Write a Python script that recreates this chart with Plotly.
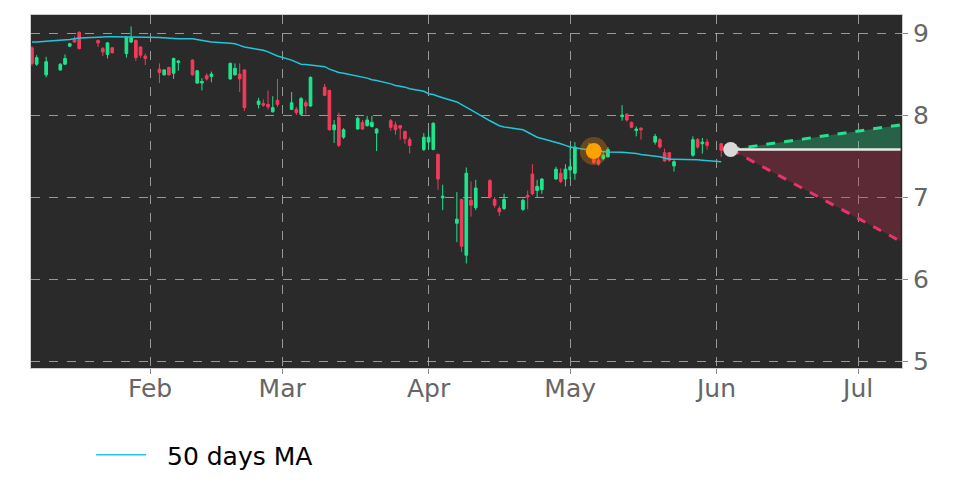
import plotly.graph_objects as go

dates = ["2025-01-07","2025-01-08","2025-01-10","2025-01-13","2025-01-14","2025-01-15","2025-01-16","2025-01-17",
"2025-01-21","2025-01-22","2025-01-23","2025-01-24","2025-01-27","2025-01-28","2025-01-29","2025-01-30","2025-01-31",
"2025-02-03","2025-02-04","2025-02-05","2025-02-06","2025-02-07","2025-02-10","2025-02-11","2025-02-12","2025-02-13","2025-02-14",
"2025-02-18","2025-02-19","2025-02-20","2025-02-21","2025-02-24","2025-02-25","2025-02-26","2025-02-27","2025-02-28",
"2025-03-03","2025-03-04","2025-03-05","2025-03-06","2025-03-07","2025-03-10","2025-03-11","2025-03-12","2025-03-13","2025-03-14",
"2025-03-17","2025-03-18","2025-03-19","2025-03-20","2025-03-21","2025-03-24","2025-03-25","2025-03-26","2025-03-27","2025-03-28",
"2025-03-31","2025-04-01","2025-04-02","2025-04-03","2025-04-04","2025-04-07","2025-04-08","2025-04-09","2025-04-10","2025-04-11",
"2025-04-14","2025-04-15","2025-04-16","2025-04-17","2025-04-21","2025-04-22","2025-04-23","2025-04-24","2025-04-25",
"2025-04-28","2025-04-29","2025-04-30","2025-05-01","2025-05-02","2025-05-05","2025-05-06","2025-05-07","2025-05-08","2025-05-09",
"2025-05-12","2025-05-13","2025-05-14","2025-05-15","2025-05-16","2025-05-19","2025-05-20","2025-05-21","2025-05-22","2025-05-23",
"2025-05-27","2025-05-28","2025-05-29","2025-05-30","2025-06-02"]

opens = [8.82,8.62,8.49,8.55,8.62,8.84,8.92,9.01,
8.91,8.81,8.74,8.82,8.75,8.89,8.91,8.83,8.72,
8.56,8.49,8.58,8.51,8.64,8.67,8.39,8.39,8.48,8.47,
8.44,8.49,8.50,8.55,8.13,8.14,8.13,8.04,8.18,
8.07,8.07,8.01,8.15,8.11,8.34,8.30,7.82,7.97,7.73,
7.83,7.91,7.87,7.86,7.78,7.93,7.88,7.87,7.80,7.70,
7.58,7.67,7.58,7.52,6.99,6.68,6.97,6.29,6.96,6.87,
7.20,6.97,6.86,6.86,6.85,7.02,7.28,7.08,7.09,
7.22,7.29,7.22,7.33,7.29,7.52,7.49,7.45,7.47,7.49,
7.98,8.01,7.91,7.81,7.84,7.67,7.70,7.54,7.54,7.38,
7.51,7.70,7.65,7.67,7.65]
highs = [8.84,8.73,8.71,8.63,8.74,8.88,8.96,9.02,
8.92,8.83,8.89,8.83,8.96,9.08,8.92,8.84,8.75,
8.63,8.56,8.59,8.70,8.67,8.68,8.55,8.45,8.51,8.53,
8.64,8.63,8.63,8.56,8.21,8.19,8.30,8.23,8.44,
8.28,8.10,8.22,8.18,8.47,8.38,8.31,7.94,8.03,7.84,
7.98,7.94,7.99,7.99,7.84,7.95,7.92,7.88,7.81,7.73,
7.78,7.81,7.91,7.53,7.15,7.06,6.98,7.36,7.19,7.21,
7.22,7.00,6.89,7.04,6.98,7.08,7.40,7.21,7.23,
7.37,7.35,7.40,7.62,7.67,7.66,7.51,7.48,7.55,7.61,
8.12,8.02,7.92,7.86,7.85,7.77,7.72,7.59,7.55,7.45,
7.74,7.72,7.72,7.71,7.66]
lows = [8.60,8.60,8.46,8.54,8.61,8.83,8.88,8.80,
8.83,8.72,8.69,8.75,8.70,8.88,8.66,8.70,8.61,
8.39,8.48,8.48,8.44,8.54,8.48,8.38,8.30,8.42,8.40,
8.43,8.48,8.28,8.05,8.08,8.10,8.07,8.03,8.10,
8.06,8.00,7.99,8.01,8.10,8.23,7.81,7.66,7.61,7.71,
7.82,7.82,7.86,7.85,7.56,7.81,7.76,7.70,7.65,7.53,
7.56,7.59,7.57,7.09,6.84,6.45,6.33,6.19,6.76,6.84,
6.98,6.87,6.77,6.84,6.83,6.85,7.02,7.00,7.04,
7.21,7.17,7.13,7.22,7.21,7.51,7.40,7.38,7.45,7.48,
7.93,7.92,7.84,7.74,7.70,7.64,7.59,7.43,7.43,7.31,
7.49,7.59,7.53,7.58,7.49]
closes = [8.63,8.70,8.65,8.62,8.69,8.87,8.89,8.81,
8.88,8.77,8.88,8.76,8.95,8.94,8.70,8.73,8.69,
8.52,8.55,8.49,8.69,8.66,8.49,8.54,8.41,8.44,8.50,
8.63,8.57,8.44,8.09,8.17,8.12,8.10,8.09,8.13,
8.15,8.03,8.20,8.11,8.46,8.24,7.82,7.88,7.63,7.82,
7.96,7.83,7.94,7.91,7.83,7.85,7.82,7.84,7.71,7.63,
7.73,7.73,7.90,7.22,7.01,6.73,6.40,7.29,6.90,7.11,
7.00,6.90,6.82,6.97,6.96,7.00,7.04,7.13,7.22,
7.34,7.19,7.34,7.37,7.61,7.58,7.42,7.40,7.51,7.58,
8.00,7.94,7.85,7.83,7.82,7.74,7.61,7.44,7.45,7.43,
7.70,7.61,7.67,7.63,7.57]
ma50 = [8.89,8.89,8.90,8.91,8.91,8.92,8.93,8.94,
8.95,8.955,8.955,8.955,8.955,8.955,8.95,8.95,8.95,
8.945,8.94,8.935,8.935,8.93,8.93,8.92,8.91,8.90,8.89,
8.875,8.87,8.85,8.83,8.80,8.79,8.77,8.74,8.72,
8.67,8.64,8.62,8.615,8.61,8.59,8.56,8.54,8.52,8.51,
8.475,8.46,8.45,8.43,8.42,8.38,8.36,8.35,8.34,8.32,
8.29,8.26,8.25,8.23,8.21,8.16,8.13,8.09,8.06,8.03,
7.93,7.90,7.87,7.855,7.82,7.79,7.76,7.73,7.715,
7.67,7.65,7.63,7.61,7.60,7.57,7.565,7.56,7.555,7.55,
7.545,7.54,7.54,7.53,7.52,7.50,7.49,7.475,7.46,7.46,
7.46,7.455,7.45,7.445,7.43]

signal_date = ["2025-05-06"]
signal_price = [7.56]
last_date = ["2025-06-04"]
last_price = [7.58]
proj_dates = ["2025-06-04", "2025-07-10"]
proj_base = [7.58, 7.58]
proj_up = [7.58, 7.88]
proj_down = [7.58, 6.46]

x_range = ["2025-01-06 19:00", "2025-07-10 07:00"]
y_range = [4.915, 9.22]
y_ticks = [5, 6, 7, 8, 9]

GREEN = "#1de68e"
RED = "#f23b5c"
font = "DejaVu Sans"

fig = go.Figure()

# projection cone (green: up)
fig.add_trace(go.Scatter(x=proj_dates, y=proj_base, mode="lines",
                         line=dict(color="rgba(0,0,0,0)", width=0), showlegend=False, hoverinfo="skip"))
fig.add_trace(go.Scatter(x=proj_dates, y=proj_up, mode="lines", fill="tonexty",
                         fillcolor="rgba(35,200,125,0.35)",
                         line=dict(color="#25e08f", width=3, dash="dash"), showlegend=False, hoverinfo="skip"))
# red: down
fig.add_trace(go.Scatter(x=proj_dates, y=proj_base, mode="lines",
                         line=dict(color="rgba(0,0,0,0)", width=0), showlegend=False, hoverinfo="skip"))
fig.add_trace(go.Scatter(x=proj_dates, y=proj_down, mode="lines", fill="tonexty",
                         fillcolor="rgba(200,45,75,0.32)",
                         line=dict(color="#e8336a", width=3, dash="dash"), showlegend=False, hoverinfo="skip"))
fig.add_trace(go.Scatter(x=proj_dates, y=proj_base, mode="lines",
                         line=dict(color="#e8e8e8", width=2.5), showlegend=False, hoverinfo="skip"))

fig.add_trace(go.Candlestick(x=dates, open=opens, high=highs, low=lows, close=closes,
                             increasing=dict(line=dict(color=GREEN, width=1), fillcolor=GREEN),
                             decreasing=dict(line=dict(color=RED, width=1), fillcolor=RED),
                             showlegend=False, whiskerwidth=0))

fig.add_trace(go.Scatter(x=dates, y=ma50, mode="lines", name="\u00a0\u00a050 days MA",
                         line=dict(color="#1ec8dc", width=1.5)))

fig.add_trace(go.Scatter(x=signal_date, y=signal_price, mode="markers",
                         marker=dict(size=28, color="rgba(255,140,0,0.3)"), showlegend=False, hoverinfo="skip"))
fig.add_trace(go.Scatter(x=signal_date, y=signal_price, mode="markers",
                         marker=dict(size=16, color="#ffa200"), showlegend=False))
fig.add_trace(go.Scatter(x=last_date, y=last_price, mode="markers",
                         marker=dict(size=15, color="#d9d9d9"), showlegend=False))

fig.update_layout(
    width=964, height=478,
    margin=dict(l=23, r=70, t=7, b=118),
    paper_bgcolor="white", plot_bgcolor="#2a2a2a",
    font=dict(family=font, size=25, color="#666666"),
    boxgap=0.2,
    showlegend=True,
    legend=dict(x=0.069, y=-0.2465, xanchor="left", yanchor="middle", orientation="h",
                font=dict(family=font, size=25, color="black"), bgcolor="rgba(0,0,0,0)", itemwidth=50),
    xaxis=dict(range=x_range, type="date", rangeslider=dict(visible=False),
               tickformat="%b", dtick="M1", tick0="2025-01-01",
               showgrid=True, gridcolor="rgba(200,200,200,0.7)", griddash="dash", gridwidth=1,
               ticks="outside", ticklen=5, tickcolor="#888888", ticklabelstandoff=-7,
               showline=True, linecolor="#cccccc", mirror=True, zeroline=False,
               tickfont=dict(size=25, color="#666666")),
    yaxis=dict(range=y_range, side="right", tickvals=y_ticks,
               showgrid=True, gridcolor="rgba(200,200,200,0.7)", griddash="dash", gridwidth=1,
               ticks="outside", ticklen=5, tickcolor="#888888",
               showline=True, linecolor="#cccccc", mirror=True, zeroline=False,
               tickfont=dict(size=25, color="#666666")),
)

fig.write_html("out.html")
